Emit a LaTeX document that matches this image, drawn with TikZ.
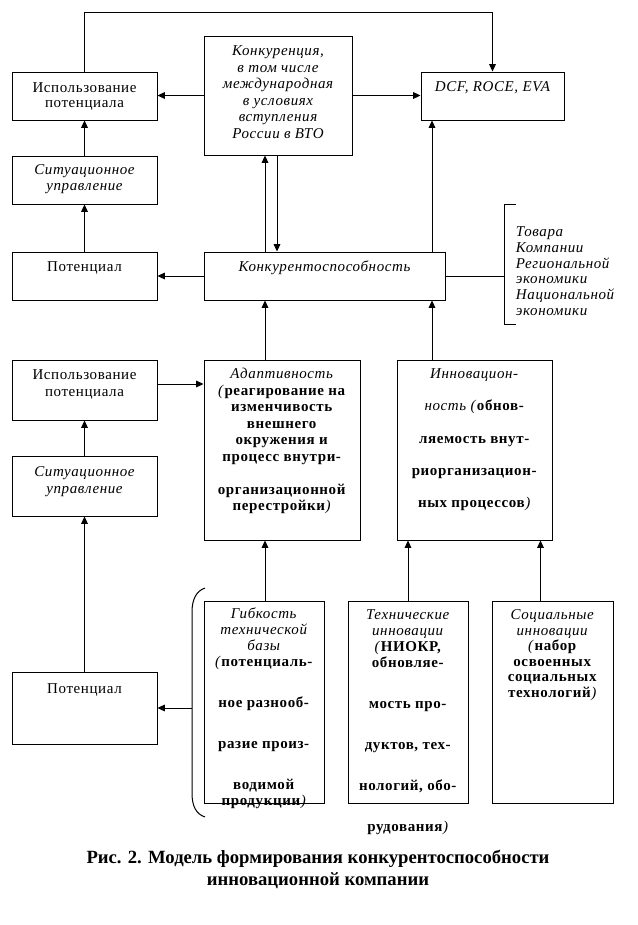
\documentclass[tikz,border=0pt]{standalone}
\usepackage{fontspec}
\setmainfont[LetterSpace=4]{Liberation Serif}
\newfontfamily\capfam{Liberation Serif}
\usetikzlibrary{fit,calc,arrows.meta}
\newcommand\mlc[2]{\vtop{\baselineskip=#1\lineskiplimit=-100pt\lineskip=0pt\halign{\hfil##\hfil\cr#2\crcr}}}
\newcommand\mll[2]{\vtop{\baselineskip=#1\lineskiplimit=-100pt\lineskip=0pt\halign{##\hfil\cr#2\crcr}}}
\newcommand\fs{\fontsize{11.25}{13.5}\selectfont}
\newcommand\capf{\capfam\fontsize{14}{16.5}\selectfont\bfseries}
\tikzset{
  box/.style={draw, line width=0.75pt, inner sep=0pt},
  arr/.style={line width=0.75pt, -{Triangle[length=5.5pt,width=5pt]}},
  ln/.style={line width=0.75pt},
  txt/.style={anchor=base, inner sep=0pt, font=\fs},
}
\begin{document}
\begin{tikzpicture}[x=0.75pt,y=-0.75pt]
\useasboundingbox[fill=white] (0,0) rectangle (637,925);
% boxes
\node[box, fit={(12,72)(157,120)}] (isp1) {};
\node[box, fit={(204,36)(352,155)}] (konk) {};
\node[box, fit={(421,72)(564,120)}] (dcf) {};
\node[box, fit={(12,156)(157,204)}] (sit1) {};
\node[box, fit={(12,252)(157,300)}] (pot1) {};
\node[box, fit={(204,252)(445,300)}] (ks) {};
\node[box, fit={(12,360)(157,420)}] (isp2) {};
\node[box, fit={(204,360)(360,540)}] (adapt) {};
\node[box, fit={(397,360)(552,540)}] (innov) {};
\node[box, fit={(12,456)(157,516)}] (sit2) {};
\node[box, fit={(12,672)(157,744)}] (pot2) {};
\node[box, fit={(204,601)(324,803)}] (gib) {};
\node[box, fit={(348,601)(468,803)}] (tech) {};
\node[box, fit={(492,601)(613,803)}] (soc) {};
% texts
\node[txt] (tisp1) at ($(isp1.north)+(0,20.7)$) {\mlc{11.7pt}{Использование\cr потенциала}};
\node[txt] (tkonk) at ($(konk.north)+(0,20)$) {\itshape\mlc{12.4pt}{Конкуренция,\cr в том числе\cr международная\cr в условиях\cr вступления\cr России в ВТО}};
\node[txt] (tdcf) at ($(dcf.north)+(0,20)$) {\itshape DCF, ROCE, EVA};
\node[txt] (tsit1) at ($(sit1.north)+(0,19)$) {\itshape\mlc{12pt}{Ситуационное\cr управление}};
\node[txt] (tpot1) at ($(pot1.north)+(0,20)$) {Потенциал};
\node[txt] (tks) at ($(ks.north)+(0,19.7)$) {\itshape Конкурентоспособность};
\node[txt, anchor=base west] (tbk) at (515.7,236.7) {\itshape\mll{11.8pt}{Товара\cr Компании\cr Региональной\cr экономики\cr Национальной\cr экономики}};
\node[txt] (tisp2) at ($(isp2.north)+(0,20)$) {\mlc{12.4pt}{Использование\cr потенциала}};
\node[txt] (tsit2) at ($(sit2.north)+(0,21)$) {\itshape\mlc{12.4pt}{Ситуационное\cr управление}};
\node[txt] (tpot2) at ($(pot2.north)+(0,22)$) {Потенциал};
\node[txt] (tadapt) at ($(adapt.north)+(0,19)$) {\mlc{12.4pt}{\textit{Адаптивность}\cr \textit{(}\textbf{реагирование на}\cr \textbf{изменчивость}\cr \textbf{внешнего}\cr \textbf{окружения и}\cr \textbf{процесс внутри-}\cr\noalign{\vskip12.4pt} \textbf{организационной}\cr \textbf{перестройки}\textit{)}}};
\node[txt] (tinnov) at ($(innov.north)+(0,19)$) {\mlc{24.2pt}{\textit{Инновацион-}\cr \textit{ность (}\textbf{обнов-}\cr \textbf{ляемость внут-}\cr \textbf{риорганизацион-}\cr \textbf{ных процессов}\textit{)}}};
\node[txt] (tgib) at ($(gib.north)+(0,17.5)$) {\mlc{12pt}{\textit{Гибкость}\cr \textit{технической}\cr \textit{базы}\cr \textit{(}\textbf{потенциаль-}\cr\noalign{\vskip18.75pt} \textbf{ное разнооб-}\cr\noalign{\vskip18.75pt} \textbf{разие произ-}\cr\noalign{\vskip18.75pt} \textbf{водимой}\cr \textbf{продукции}\textit{)}}};
\node[txt] (ttech) at ($(tech.north)+(0,19)$) {\mlc{12pt}{\textit{Технические}\cr \textit{инновации}\cr \textit{(}\textbf{НИОКР,}\cr \textbf{обновляе-}\cr\noalign{\vskip18.75pt} \textbf{мость про-}\cr\noalign{\vskip18.75pt} \textbf{дуктов, тех-}\cr\noalign{\vskip18.75pt} \textbf{нологий, обо-}\cr\noalign{\vskip18.75pt} \textbf{рудования}\textit{)}}};
\node[txt] (tsoc) at ($(soc.north)+(0,19)$) {\mlc{11.7pt}{\textit{Социальные}\cr \textit{инновации}\cr \textit{(}\textbf{набор}\cr \textbf{освоенных}\cr \textbf{социальных}\cr \textbf{технологий}\textit{)}}};
\node[anchor=base, inner sep=0pt, font=\capf] (cap) at (318,863) {\mlc{16.5pt}{Рис. 2. Модель формирования конкурентоспособности\cr инновационной компании}};
% connectors
\coordinate (topy) at (0,12.3);
\coordinate (c1) at (265,0);
\coordinate (c2) at (277,0);
\coordinate (c3) at (432,0);
\coordinate (c4) at (540.5,0);
\draw[arr] (isp1.north) |- (topy -| dcf.north) -- (dcf.north);
\draw[arr] (konk.west) -- (konk.west -| isp1.east);
\draw[arr] (konk.east) -- (konk.east -| dcf.west);
\draw[arr] (sit1.north) -- (isp1.south);
\draw[arr] (pot1.north) -- (sit1.south);
\draw[arr] (ks.west) -- (ks.west -| pot1.east);
\draw[arr] (c1 |- ks.north) -- (c1 |- konk.south);
\draw[arr] (c2 |- konk.south) -- (c2 |- ks.north);
\draw[arr] (c3 |- ks.north) -- (c3 |- dcf.south);
\draw[arr] (c1 |- adapt.north) -- (c1 |- ks.south);
\draw[arr] (c3 |- innov.north) -- (c3 |- ks.south);
\draw[arr] (sit2.north) -- (isp2.south);
\draw[arr] (pot2.north) -- (sit2.south);
\draw[arr] ([yshift=4.5pt]isp2.east) coordinate (i2) -- (i2 -| adapt.west);
\draw[arr] (c1 |- gib.north) -- (c1 |- adapt.south);
\draw[arr] (tech.north) -- (tech.north |- innov.south);
\draw[arr] (c4 |- soc.north) -- (c4 |- innov.south);
% right bracket
\coordinate (bk) at (504,276);
\draw[ln] (ks.east) -- (bk);
\draw[ln] (516,204) -- (504,204) -- (504,324) -- (516,324);
% left brace
\coordinate (bl) at (192,708);
\draw[ln] (205,588) .. controls (196,591) and (192,600) .. (192,612) -- (192,793) .. controls (192,806) and (196,814) .. (205,817);
\draw[arr] (bl) -- (pot2.east);
\end{tikzpicture}
\end{document}
